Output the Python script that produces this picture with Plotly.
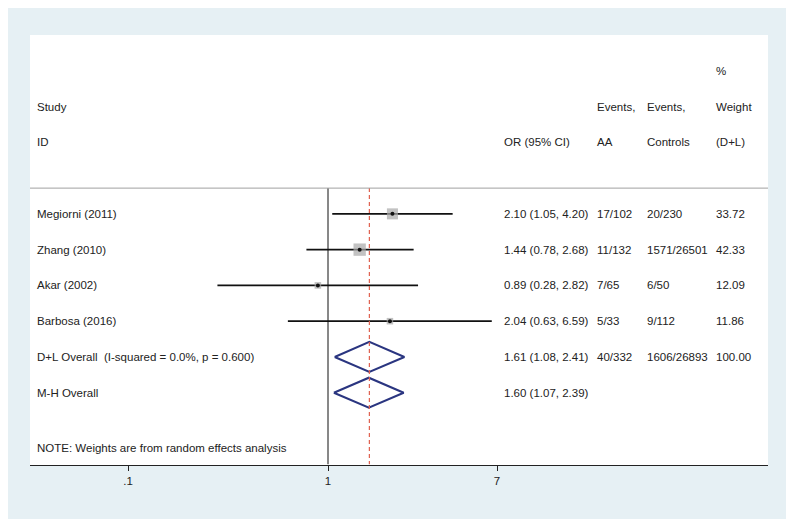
import plotly.graph_objects as go

# study-level data
studies = ["Megiorni (2011)", "Zhang (2010)", "Akar (2002)", "Barbosa (2016)"]
odds_ratio = [2.10, 1.44, 0.89, 2.04]
ci_low = [1.05, 0.78, 0.28, 0.63]
ci_high = [4.20, 2.68, 2.82, 6.59]
events_aa = ["17/102", "11/132", "7/65", "5/33"]
events_controls = ["20/230", "1571/26501", "6/50", "9/112"]
weights = [33.72, 42.33, 12.09, 11.86]

# pooled estimates
pooled_labels = ["D+L Overall  (I-squared = 0.0%, p = 0.600)", "M-H Overall"]
pooled_or = [1.61, 1.60]
pooled_low = [1.08, 1.07]
pooled_high = [2.41, 2.39]
pooled_aa = ["40/332", ""]
pooled_controls = ["1606/26893", ""]
pooled_weight = ["100.00", ""]

tick_vals = [0.1, 1, 7]
tick_text = [".1", "1", "7"]

FONT = "Liberation Sans, Arial, sans-serif"
TEXT = "#222222"
NAVY = "#2a3580"

rows = list(range(1, len(studies) + 1))
pooled_rows = [len(studies) + 1 + i for i in range(len(pooled_labels))]

fig = go.Figure()

# confidence interval lines
ci_x, ci_y = [], []
for r, lo, hi in zip(rows, ci_low, ci_high):
    ci_x += [lo, hi, None]
    ci_y += [r, r, None]
fig.add_trace(go.Scatter(x=ci_x, y=ci_y, mode="lines",
                         line=dict(color="#111111", width=1.8), hoverinfo="skip"))

# weight boxes
fig.add_trace(go.Scatter(
    x=odds_ratio, y=rows, mode="markers",
    marker=dict(symbol="square", color="#a8a8a8",
                size=[1.9 * w ** 0.5 for w in weights], line=dict(width=0)),
    hoverinfo="skip"))
fig.add_trace(go.Scatter(
    x=odds_ratio, y=rows, mode="markers",
    marker=dict(symbol="circle", color="#111111", size=4), hoverinfo="skip"))

# pooled diamonds
for r, est, lo, hi in zip(pooled_rows, pooled_or, pooled_low, pooled_high):
    h = 0.42
    fig.add_trace(go.Scatter(
        x=[lo, est, hi, est, lo], y=[r, r - h, r, r + h, r],
        mode="lines", line=dict(color=NAVY, width=2), hoverinfo="skip"))

# outer light-blue panel and white plotting region
fig.add_shape(type="rect", xref="paper", yref="paper", layer="below",
              x0=-0.0312, x1=1.0244, y0=-0.1256, y1=1.0628,
              fillcolor="#e6f0f4", line=dict(width=0))
fig.add_shape(type="rect", xref="paper", yref="paper", layer="below",
              x0=0, x1=1, y0=0, y1=1, fillcolor="white", line=dict(width=0))

# reference lines
fig.add_shape(type="line", xref="x", yref="y", x0=1, x1=1, y0=0.28, y1=8,
              line=dict(color="#111111", width=1))
fig.add_shape(type="line", xref="x", yref="y", x0=pooled_or[0], x1=pooled_or[0],
              y0=0.28, y1=8, line=dict(color="#e0604f", width=1.2, dash="4px,3px"))
fig.add_shape(type="line", xref="paper", yref="y", x0=0, x1=1, y0=0.28, y1=0.28,
              line=dict(color="#a0a0a0", width=1))

col_study, col_or, col_aa, col_ctrl, col_w = 0.0068, 0.6396, 0.7656, 0.8333, 0.9268


def txt(x, y, s):
    fig.add_annotation(x=x, y=y, xref="paper", yref="y", text=s, showarrow=False,
                       xanchor="left", yanchor="middle",
                       font=dict(family=FONT, size=11.5, color=TEXT))


# header
txt(col_w, -3, "%")
txt(col_study, -2, "Study")
txt(col_aa, -2, "Events,")
txt(col_ctrl, -2, "Events,")
txt(col_w, -2, "Weight")
txt(col_study, -1, "ID")
txt(col_or, -1, "OR (95% CI)")
txt(col_aa, -1, "AA")
txt(col_ctrl, -1, "Controls")
txt(col_w, -1, "(D+L)")

for r, name, est, lo, hi, a, c, w in zip(rows, studies, odds_ratio, ci_low, ci_high,
                                         events_aa, events_controls, weights):
    txt(col_study, r, name)
    txt(col_or, r, f"{est:.2f} ({lo:.2f}, {hi:.2f})")
    txt(col_aa, r, a)
    txt(col_ctrl, r, c)
    txt(col_w, r, f"{w:.2f}")

for r, name, est, lo, hi, a, c, w in zip(pooled_rows, pooled_labels, pooled_or, pooled_low,
                                         pooled_high, pooled_aa, pooled_controls, pooled_weight):
    txt(col_study, r, name)
    txt(col_or, r, f"{est:.2f} ({lo:.2f}, {hi:.2f})")
    if a:
        txt(col_aa, r, a)
        txt(col_ctrl, r, c)
        txt(col_w, r, w)

txt(col_study, 7.54, "NOTE: Weights are from random effects analysis")

fig.update_xaxes(type="log", range=[-1.49, 2.2], tickvals=tick_vals, ticktext=tick_text,
                 showgrid=False, zeroline=False, showline=True, linecolor="#222222",
                 linewidth=1, ticks="outside", ticklen=5, tickcolor="#222222",
                 tickfont=dict(family=FONT, size=11.5, color=TEXT))
fig.update_yaxes(range=[8.02, -4.0], visible=False, showgrid=False, zeroline=False)
fig.update_layout(
    width=792, height=517,
    margin=dict(l=22, r=32, t=27, b=60),
    paper_bgcolor="white", plot_bgcolor="white",
    showlegend=False,
)

fig.write_html("out.html")
